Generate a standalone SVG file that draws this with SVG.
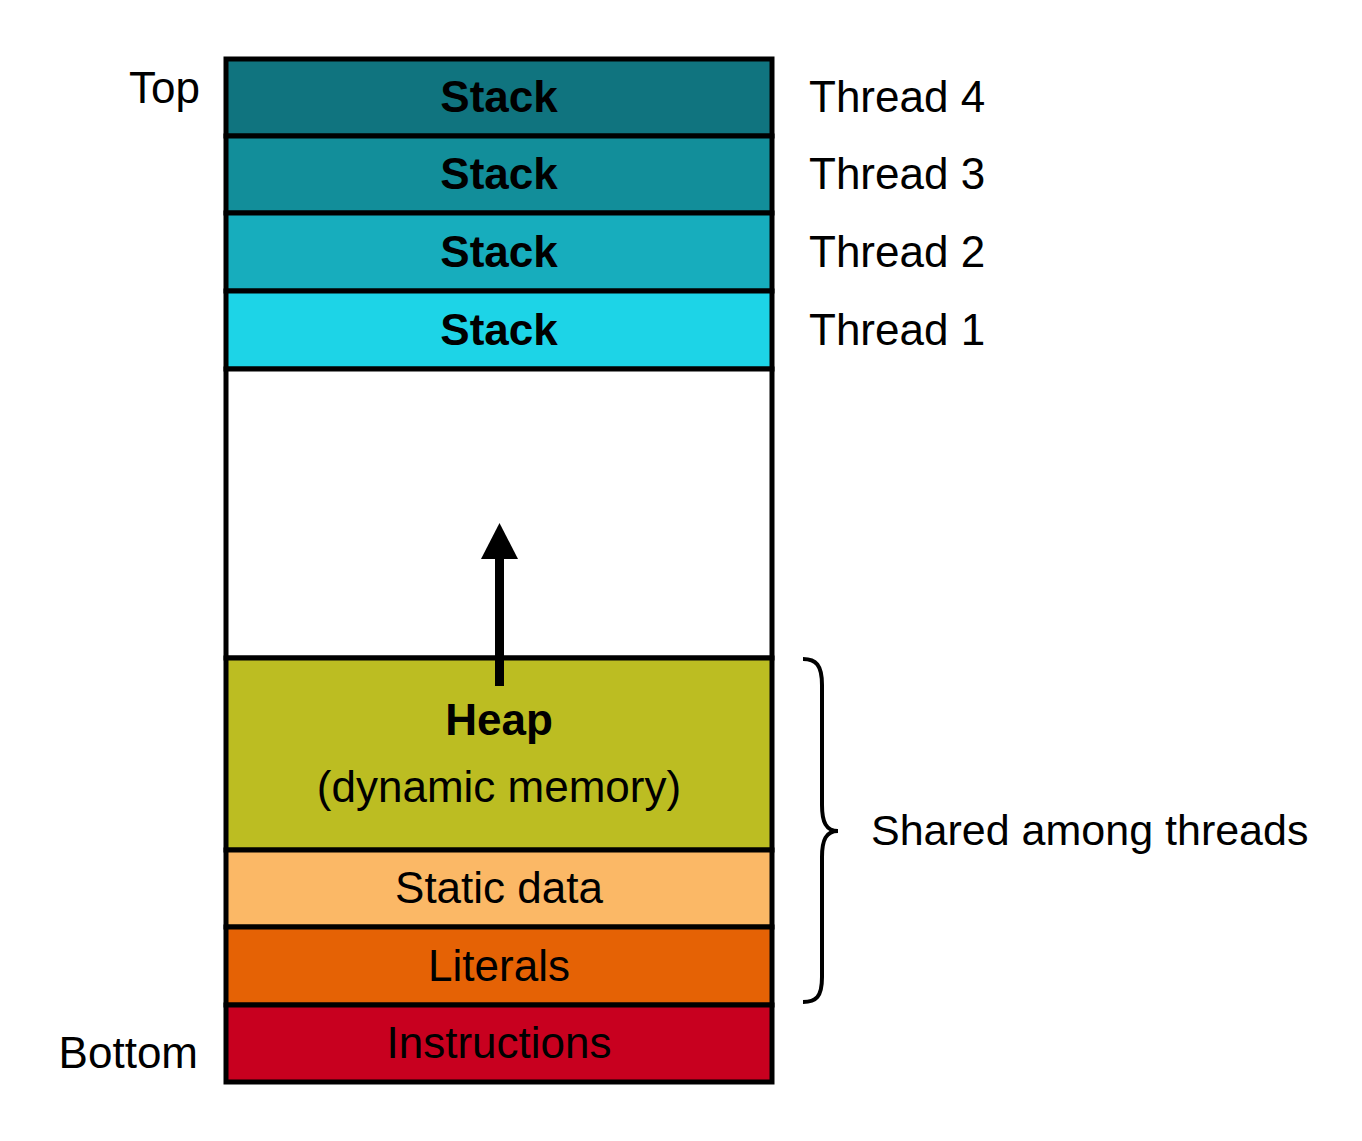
<svg xmlns="http://www.w3.org/2000/svg" width="1362" height="1141" viewBox="0 0 1362 1141">
<style>
.seg{stroke:#000;stroke-width:5}
.t{font-family:"Liberation Sans",Arial,sans-serif;font-size:44px;fill:#000}
.b{font-weight:bold}
.m{text-anchor:middle}
.e{text-anchor:end}
</style>
<rect width="1362" height="1141" fill="#fff"/>
<g id="stack4"><rect class="seg" x="226" y="59" width="546" height="77" fill="#10747F"/><text class="t b m" x="499" y="112">Stack</text></g>
<g id="stack3"><rect class="seg" x="226" y="136" width="546" height="77" fill="#128E9A"/><text class="t b m" x="499" y="189">Stack</text></g>
<g id="stack2"><rect class="seg" x="226" y="213" width="546" height="78" fill="#17ADBD"/><text class="t b m" x="499" y="267">Stack</text></g>
<g id="stack1"><rect class="seg" x="226" y="291" width="546" height="78" fill="#1DD4E7"/><text class="t b m" x="499" y="345">Stack</text></g>
<g id="free"><rect class="seg" x="226" y="369" width="546" height="289" fill="#fff"/></g>
<g id="heap"><rect class="seg" x="226" y="658" width="546" height="192" fill="#BCBD22"/><text class="t b m" x="499" y="735">Heap</text><text class="t m" x="499" y="802">(dynamic memory)</text></g>
<g id="static"><rect class="seg" x="226" y="850" width="546" height="77" fill="#FBB866"/><text class="t m" x="499" y="903">Static data</text></g>
<g id="literals"><rect class="seg" x="226" y="927" width="546" height="78" fill="#E56205"/><text class="t m" x="499" y="981">Literals</text></g>
<g id="instructions"><rect class="seg" x="226" y="1005" width="546" height="77" fill="#C8001F"/><text class="t m" x="499" y="1058">Instructions</text></g>
<g id="labels">
<text class="t e" x="200" y="103">Top</text>
<text class="t e" x="198" y="1068">Bottom</text>
<text class="t" x="809" y="112">Thread 4</text>
<text class="t" x="809" y="189">Thread 3</text>
<text class="t" x="809" y="267">Thread 2</text>
<text class="t" x="809" y="345">Thread 1</text>
<text class="t" x="871" y="845" style="font-size:43px">Shared among threads</text>
</g>
<g id="connectors">
<line x1="499.5" y1="686" x2="499.5" y2="556" stroke="#000" stroke-width="9"/>
<polygon points="499.5,523 481,559 518,559" fill="#000"/>
<path d="M803,659 C816,659 822,665 822,685 L822,805 C822,822 826,831 838,831 C826,831 822,840 822,857 L822,977 C822,997 816,1002 803,1002" fill="none" stroke="#000" stroke-width="4"/>
</g>
</svg>
